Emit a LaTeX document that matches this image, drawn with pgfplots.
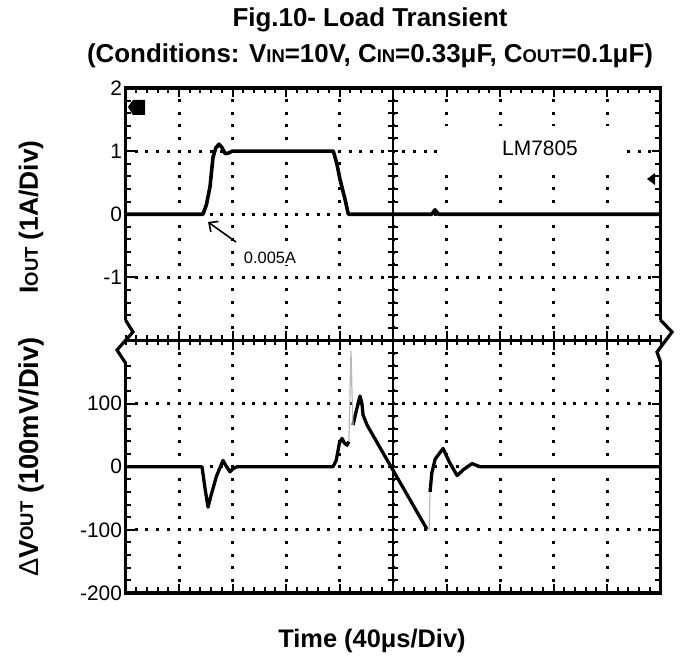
\documentclass[border=0pt]{standalone}
\usepackage{pgfplots}
\pgfplotsset{compat=1.18}
\usepackage{fontspec}
\setmainfont{Liberation Sans}
\usetikzlibrary{arrows.meta}
\newcommand{\sm}[1]{{\fontsize{18.5}{18.5}\selectfont #1}}

\begin{document}
\begin{tikzpicture}[x=1bp,y=1bp]
\useasboundingbox (0,0) rectangle (681,657);

\begin{axis}[
    at={(125.5bp,64bp)}, anchor=south west,
    scale only axis, width=535bp, height=505bp,
    xmin=0, xmax=400, ymin=0, ymax=8,
    xtick={0,40,...,400}, xticklabels={},
    ytick={0,1,...,8},
    yticklabels={-200,-100,0,100,{},-1,0,1,2},
    minor x tick num=4, minor y tick num=4,
    tick align=inside, xtick pos=both, ytick pos=both,
    major tick length=9bp, minor tick length=5.5bp,
    tick style={black, line width=2bp},
    axis line style={line width=3.2bp},
    yticklabel style={font=\fontsize{21}{21}\selectfont},
    grid=major,
    major x grid style={black, line width=3bp, dash pattern=on 3bp off 9.625bp, dash phase=1.5bp},
    major y grid style={black, line width=3bp, dash pattern=on 3bp off 7.7bp, dash phase=1.5bp},
    clip=false,
]
% I_OUT, A  (drawn at y = I + 6)
\addplot[black, line width=3.6bp, line join=round, y filter/.expression={y+6}]
coordinates {
(0,0)(57.9,0)(60.5,0.15)(63.2,0.44)(65.4,0.9)(67.5,1.05)(69.9,1.11)(72,1.06)
(74.5,0.96)(77,0.97)(80,1.0)(120,1.0)(155.4,1.0)(158,0.8)(160.4,0.55)(164.1,0.24)
(166.6,0)(229,0)(231.4,0.07)(234,0)(400,0)
};
% dV_OUT, mV  (drawn at y = V/100 + 2)
\addplot[black, line width=3.3bp, line join=round, y filter/.expression={y/100+2}]
coordinates {
(0,0)(57.2,0)(59.5,-35)(61.7,-64)(64,-45)(68,-15)(72.9,10)(75,2)(78.1,-8)
(80.5,-3)(83.4,0)(155.1,0)(157.5,10)(160,38)(161.9,45)(163.5,38)(165.6,34)(167,40)
};
\addplot[black, line width=3.3bp, line join=round, y filter/.expression={y/100+2}]
coordinates {
(170.1,66)(172.5,88)(175.3,112)(176.8,100)(177.6,82)(180.6,66)(225.4,-99)
};
\addplot[black, line width=3.3bp, line join=round, y filter/.expression={y/100+2}]
coordinates {
(227.7,-40)(229,-10)(231.5,12)(237.4,29)(242,8)(247.9,-14)(253,-4)(259.1,5)
(265.1,0)(400,0)
};
% grey spikes
\addplot[gray!55, line width=1.2bp, y filter/.expression={y/100+2}]
coordinates {(167,40)(168.6,184)(169.3,120)(170.1,66)};
\addplot[gray!55, line width=1.2bp, y filter/.expression={y/100+2}]
coordinates {(225.4,-99)(227.0,-99)(227.7,-40)};
\end{axis}

% breaks in the frame
\fill[white] (116,294.5) rectangle (137,336.5);
\fill[white] (649,294.5) rectangle (669,336.5);

% centre cross with ticks
\draw[line width=2.8bp] (125.5,316.5) -- (660.5,316.5);
\draw[line width=2.8bp] (393,64) -- (393,569);
\foreach \i in {0,...,50} \draw[line width=2bp] ({125.5+\i*10.7},311.5) -- ++(0,10);
\foreach \i in {1,...,9} \draw[line width=2bp] ({125.5+\i*53.5},307) -- ++(0,19);
\foreach \i in {0,...,40} \draw[line width=2bp] (388,{64+\i*12.625}) -- ++(10,0);

\draw[line width=3.2bp, line join=miter] (125.5,337) -- (133,325) -- (117,307) -- (125.5,294);
\draw[line width=3.2bp, line join=miter] (660.5,337) -- (672,325) -- (657,305) -- (660.5,295);

% scope markers
\fill (128,550) -- (133,557) -- (145,557) -- (145,542) -- (133,542) -- cycle;
\fill (647,478) -- (655,484) -- (655,472) -- cycle;

% label background and texts
\fill[white] (438,488) rectangle (625,531);
\node[anchor=base, font=\bfseries\fontsize{26}{26}\selectfont] at (370,630)
  {Fig.10- Load Transient};
\node[anchor=base, font=\bfseries\fontsize{26}{26}\selectfont] at (370,594)
  {(Conditions: V\sm{IN}=10V, C\sm{IN}=0.33μF, C\sm{OUT}=0.1μF)};
\node[anchor=base, font=\bfseries\fontsize{25.5}{25.5}\selectfont] at (372,9)
  {Time (40μs/Div)};
\node[rotate=90, font=\bfseries\fontsize{26.5}{26.5}\selectfont] at (31,440)
  {I\sm{OUT} (1A/Div)};
\node[rotate=90, font=\bfseries\fontsize{27.5}{27.5}\selectfont] at (31,200)
  {{\mdseries Δ}V\raisebox{5bp}{\sm{OUT}} (100mV/Div)};
\node[font=\fontsize{21}{21}\selectfont] at (540,508.5) {LM7805};
\node[fill=white, inner sep=1.5bp, font=\fontsize{16.5}{16.5}\selectfont] at (270,399) {0.005A};
\draw[-{Straight Barb[length=7bp,width=13bp]}, line width=1.6bp] (236,415) -- (208,435);
\end{tikzpicture}
\end{document}
